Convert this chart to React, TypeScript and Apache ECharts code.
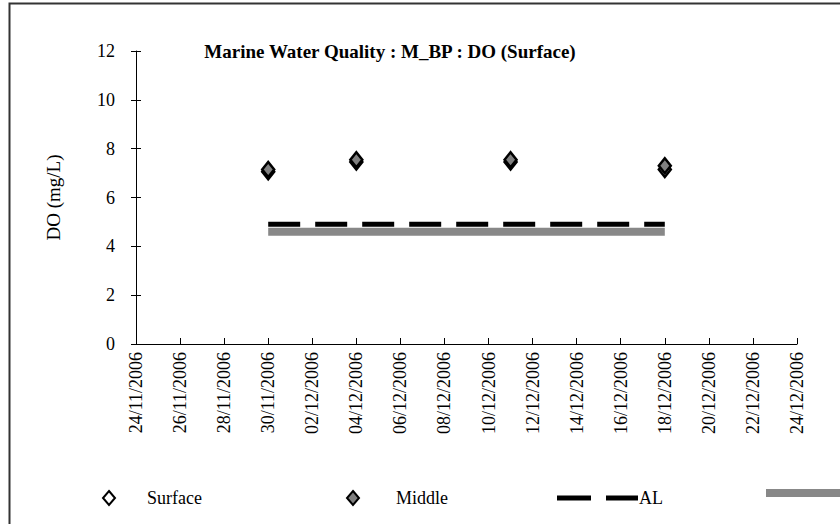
import React, { useEffect, useRef } from "react";
import * as echarts from "echarts";

const sampleDates = ["30/11/2006", "04/12/2006", "11/12/2006", "18/12/2006"];
const surfaceValues = [7.05, 7.45, 7.45, 7.15];
const middleValues = [7.15, 7.55, 7.55, 7.3];
const alValues = [4.9, 4.9, 4.9, 4.9];
const limitValues = [4.6, 4.6, 4.6, 4.6];
const axisStart = "24/11/2006";
const axisDays = 30;
const yTicks = [0, 2, 4, 6, 8, 10, 12];

const DAY = 86400000;
function parseDate(s: string): number {
  const [d, m, y] = s.split("/").map(Number);
  return Date.UTC(y, m - 1, d);
}
const startMs = parseDate(axisStart);
function dayOffset(s: string): number {
  return Math.round((parseDate(s) - startMs) / DAY);
}
function fmtDay(v: number): string {
  const dt = new Date(startMs + v * DAY);
  const dd = String(dt.getUTCDate()).padStart(2, "0");
  const mm = String(dt.getUTCMonth() + 1).padStart(2, "0");
  return `${dd}/${mm}/${dt.getUTCFullYear()}`;
}

const FONT = "Liberation Serif";
const FS = 18;

export default function App() {
  const ref = useRef<HTMLDivElement>(null);
  useEffect(() => {
    if (!ref.current) return;
    const chart = echarts.init(ref.current, null, { renderer: "svg" });
    const pts = (vals: number[]) => sampleDates.map((d, i) => [dayOffset(d), vals[i]]);
    const legendBase = {
      orient: "horizontal" as const,
      top: 484,
      itemGap: 0,
      textStyle: { fontFamily: FONT, fontSize: FS, color: "#000" },
      inactiveColor: "#000",
      selectedMode: false,
    };
    chart.setOption({
      animation: false,
      backgroundColor: "#fff",
      title: {
        text: "Marine Water Quality : M_BP : DO (Surface)",
        left: 385,
        top: 37,
        textAlign: "center",
        textStyle: { fontFamily: FONT, fontSize: 19, fontWeight: "bold", color: "#000" },
      },
      grid: { left: 136, right: 43, top: 51, bottom: 180, containLabel: false },
      xAxis: {
        type: "value",
        min: 0,
        max: axisDays,
        interval: 2,
        splitLine: { show: false },
        axisLine: { show: true, lineStyle: { color: "#000", width: 1 } },
        axisTick: { show: true, inside: true, length: 6, lineStyle: { color: "#000" } },
        axisLabel: {
          rotate: 90,
          margin: 8,
          formatter: (v: number) => fmtDay(v),
          fontFamily: FONT,
          fontSize: FS,
          color: "#000",
        },
      },
      yAxis: [
        {
          type: "value",
          min: yTicks[0],
          max: yTicks[yTicks.length - 1],
          interval: 2,
          position: "left",
          name: "DO (mg/L)",
          nameLocation: "middle",
          nameGap: 73,
          nameTextStyle: { fontFamily: FONT, fontSize: 19, color: "#000" },
          splitLine: { show: false },
          axisLine: { show: true, lineStyle: { color: "#000", width: 1 } },
          axisTick: { show: true, inside: false, length: 5, lineStyle: { color: "#000" } },
          axisLabel: { margin: 21, fontFamily: FONT, fontSize: FS, color: "#000" },
        },
        {
          type: "value",
          min: yTicks[0],
          max: yTicks[yTicks.length - 1],
          interval: 2,
          position: "left",
          splitLine: { show: false },
          axisLine: { show: false },
          axisTick: { show: true, inside: true, length: 5, lineStyle: { color: "#000" } },
          axisLabel: { show: false },
        },
      ],
      legend: [
        {
          ...legendBase,
          left: 97,
          data: [{ name: "Surface", icon: "diamond" }],
          itemWidth: 12,
          itemHeight: 14,
          textStyle: { ...legendBase.textStyle, padding: [0, 0, 0, 27] },
        },
        {
          ...legendBase,
          left: 341,
          data: [{ name: "Middle", icon: "diamond" }],
          itemWidth: 12,
          itemHeight: 14,
          textStyle: { ...legendBase.textStyle, padding: [0, 0, 0, 32] },
        },
        {
          ...legendBase,
          left: 552,
          data: [{ name: "AL", icon: "path://M0,0h34v5h-34z M49,0h32v5h-32z" }],
          itemWidth: 81,
          itemHeight: 5,
          textStyle: { ...legendBase.textStyle, padding: [0, 0, 0, -4] },
        },
        {
          ...legendBase,
          left: 761,
          data: [{ name: "Limit", icon: "rect" }],
          itemWidth: 90,
          itemHeight: 8,
          formatter: () => "",
        },
      ],
      graphic: [
        {
          type: "rect",
          left: 7,
          top: 1,
          shape: { width: 900, height: 522 },
          style: { fill: "none", stroke: "#333", lineWidth: 2 },
          silent: true,
        },
      ],
      series: [
        {
          name: "Limit",
          type: "line",
          data: pts(limitValues),
          symbol: "none",
          lineStyle: { color: "#888", width: 8, cap: "butt" },
          itemStyle: { color: "#888" },
          z: 2,
        },
        {
          name: "AL",
          type: "line",
          data: pts(alValues),
          symbol: "none",
          lineStyle: { color: "#000", width: 5, type: [32, 15], cap: "butt" },
          itemStyle: { color: "#000" },
          z: 3,
        },
        {
          name: "Surface",
          type: "scatter",
          data: pts(surfaceValues),
          symbol: "diamond",
          symbolSize: [12, 15],
          itemStyle: { color: "#fff", borderColor: "#000", borderWidth: 2.5, opacity: 1 },
          z: 4,
        },
        {
          name: "Middle",
          type: "scatter",
          data: pts(middleValues),
          symbol: "diamond",
          symbolSize: [12, 15],
          itemStyle: { color: "#808080", borderColor: "#000", borderWidth: 2.5, opacity: 1 },
          z: 5,
        },
      ],
    });
    return () => chart.dispose();
  }, []);
  return (
    <div
      ref={ref}
      style={{ position: "fixed", left: 0, top: 0, width: 840, height: 524 }}
    />
  );
}
